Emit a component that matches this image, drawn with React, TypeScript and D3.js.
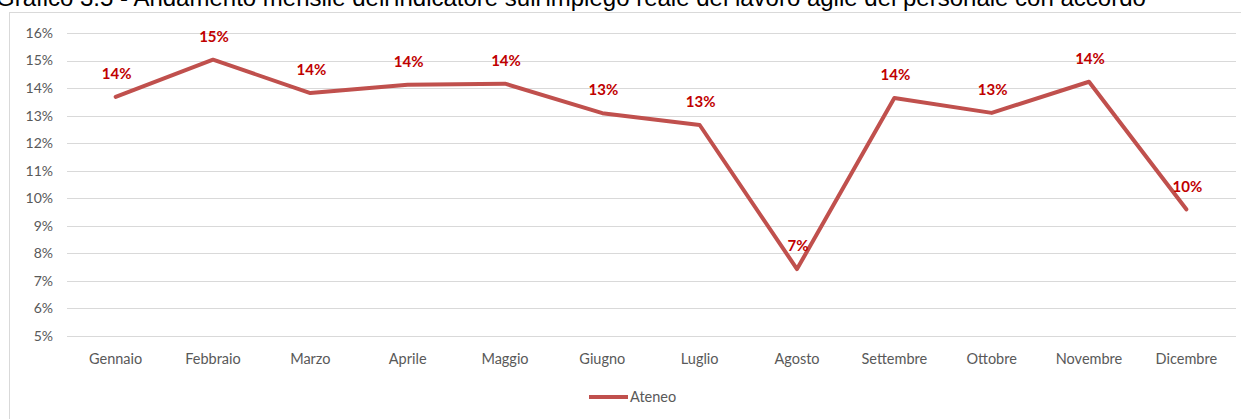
import React from "react";
import * as d3 from "d3";

const months = ["Gennaio","Febbraio","Marzo","Aprile","Maggio","Giugno","Luglio","Agosto","Settembre","Ottobre","Novembre","Dicembre"];
const ateneo = [13.68, 15.03, 13.82, 14.12, 14.16, 13.09, 12.66, 7.43, 13.64, 13.1, 14.23, 9.6];
const yTicks = [5,6,7,8,9,10,11,12,13,14,15,16];
const seriesName = "Ateneo";
const title = "Grafico 3.5 - Andamento mensile dell'indicatore sull'impiego reale del lavoro agile del personale con accordo";

export default function App() {
  const W = 1241, H = 419;
  const x = d3.scaleBand<string>().domain(months).range([67, 1235]);
  const y = d3.scaleLinear().domain([5, 16]).range([336, 33]);
  const line = d3.line<number>()
    .x((_, i) => (x(months[i]) as number) + x.bandwidth() / 2)
    .y((d) => y(d));
  const axisFont = "Lato, 'Open Sans', sans-serif";
  return (
    <svg width={W} height={H} style={{ position: "absolute", left: 0, top: 0, background: "#fff" }}>
      <text x={-4} y={6} fontFamily="'Liberation Sans', Arial, sans-serif" fontSize={24} fill="#000">{title}</text>
      <rect x={9.5} y={12.5} width={1240} height={420} fill="none" stroke="#D9D9D9" strokeWidth={1} />
      {yTicks.map((t) => (
        <g key={t}>
          <line x1={67} x2={1236} y1={Math.round(y(t)) + 0.5} y2={Math.round(y(t)) + 0.5} stroke="#D9D9D9" strokeWidth={1} />
          <text x={53} y={y(t)} dy="0.35em" textAnchor="end" fontFamily={axisFont} fontSize={14} fill="#595959">{t}%</text>
        </g>
      ))}
      {months.map((m) => (
        <text key={m} x={(x(m) as number) + x.bandwidth() / 2} y={359} dy="0.35em" textAnchor="middle" fontFamily={axisFont} fontSize={14.5} fill="#595959">{m}</text>
      ))}
      <path d={line(ateneo) || ""} fill="none" stroke="#C0504D" strokeWidth={4} strokeLinejoin="round" strokeLinecap="round" />
      {ateneo.map((v, i) => (
        <text key={i} x={(x(months[i]) as number) + x.bandwidth() / 2 + 1} y={y(v) - 23} dy="0.35em" textAnchor="middle" fontFamily={axisFont} fontWeight="bold" fontSize={15} fill="#C00000">{Math.round(v)}%</text>
      ))}
      <line x1={589} x2={628} y1={397} y2={397} stroke="#C0504D" strokeWidth={4} />
      <text x={630} y={397} dy="0.35em" fontFamily={axisFont} fontSize={14.5} fill="#595959">{seriesName}</text>
    </svg>
  );
}
